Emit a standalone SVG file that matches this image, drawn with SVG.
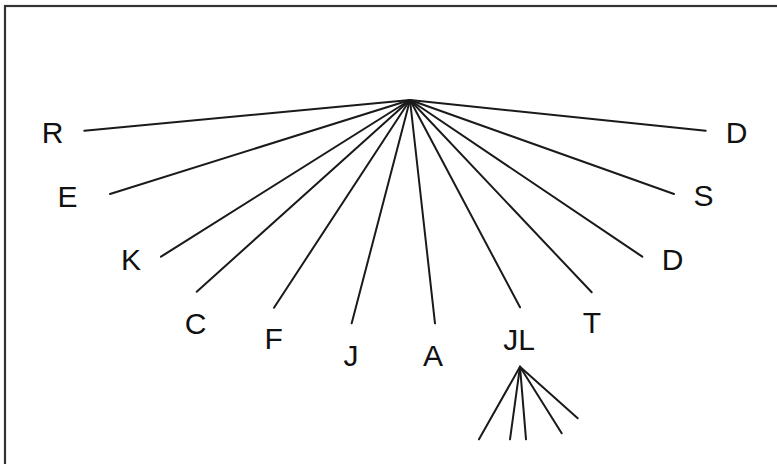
<svg xmlns="http://www.w3.org/2000/svg" width="777" height="464" viewBox="0 0 777 464">
<style>
.bg{fill:#ffffff}
.frame{fill:none;stroke:#333333;stroke-width:2.2}
.edge{stroke:#1a1a1a;stroke-width:2;stroke-linecap:round;fill:none}
.lbl{font-family:"Liberation Sans",Arial,sans-serif;font-size:30px;fill:#111111;text-anchor:middle}
</style>
<rect class="bg" x="0" y="0" width="777" height="464"/>
<rect class="frame" x="5" y="6" width="790" height="480"/>
<g id="connectors">
<line class="edge" x1="410" y1="100" x2="84.3" y2="130.7"/>
<line class="edge" x1="410" y1="100" x2="110" y2="194"/>
<line class="edge" x1="410" y1="100" x2="161" y2="256.7"/>
<line class="edge" x1="410" y1="100" x2="196.7" y2="291.7"/>
<line class="edge" x1="410" y1="100" x2="274" y2="307.7"/>
<line class="edge" x1="410" y1="100" x2="351.7" y2="323.3"/>
<line class="edge" x1="410" y1="100" x2="435" y2="323.3"/>
<line class="edge" x1="410" y1="100" x2="520" y2="307.3"/>
<line class="edge" x1="410" y1="100" x2="591.7" y2="292.3"/>
<line class="edge" x1="410" y1="100" x2="642.3" y2="256.7"/>
<line class="edge" x1="410" y1="100" x2="674" y2="194"/>
<line class="edge" x1="410" y1="100" x2="705.7" y2="130.7"/>
<line class="edge" x1="520" y1="366.7" x2="479" y2="439.3"/>
<line class="edge" x1="520" y1="366.7" x2="510" y2="439.3"/>
<line class="edge" x1="520" y1="366.7" x2="526" y2="439.3"/>
<line class="edge" x1="520" y1="366.7" x2="561.7" y2="433.3"/>
<line class="edge" x1="520" y1="366.7" x2="577.7" y2="418.3"/>
</g>
<g id="node-R"><text class="lbl" x="52.5" y="143">R</text></g>
<g id="node-E"><text class="lbl" x="67.5" y="207">E</text></g>
<g id="node-K"><text class="lbl" x="131" y="270">K</text></g>
<g id="node-C"><text class="lbl" x="195.5" y="334">C</text></g>
<g id="node-F"><text class="lbl" x="273.7" y="349">F</text></g>
<g id="node-J"><text class="lbl" x="351" y="365.5">J</text></g>
<g id="node-A"><text class="lbl" x="433" y="366">A</text></g>
<g id="node-JL"><text class="lbl" x="519" y="350">JL</text></g>
<g id="node-T"><text class="lbl" x="592" y="333">T</text></g>
<g id="node-D2"><text class="lbl" x="672.7" y="270">D</text></g>
<g id="node-S"><text class="lbl" x="703.5" y="206">S</text></g>
<g id="node-D1"><text class="lbl" x="736.7" y="143">D</text></g>
</svg>
